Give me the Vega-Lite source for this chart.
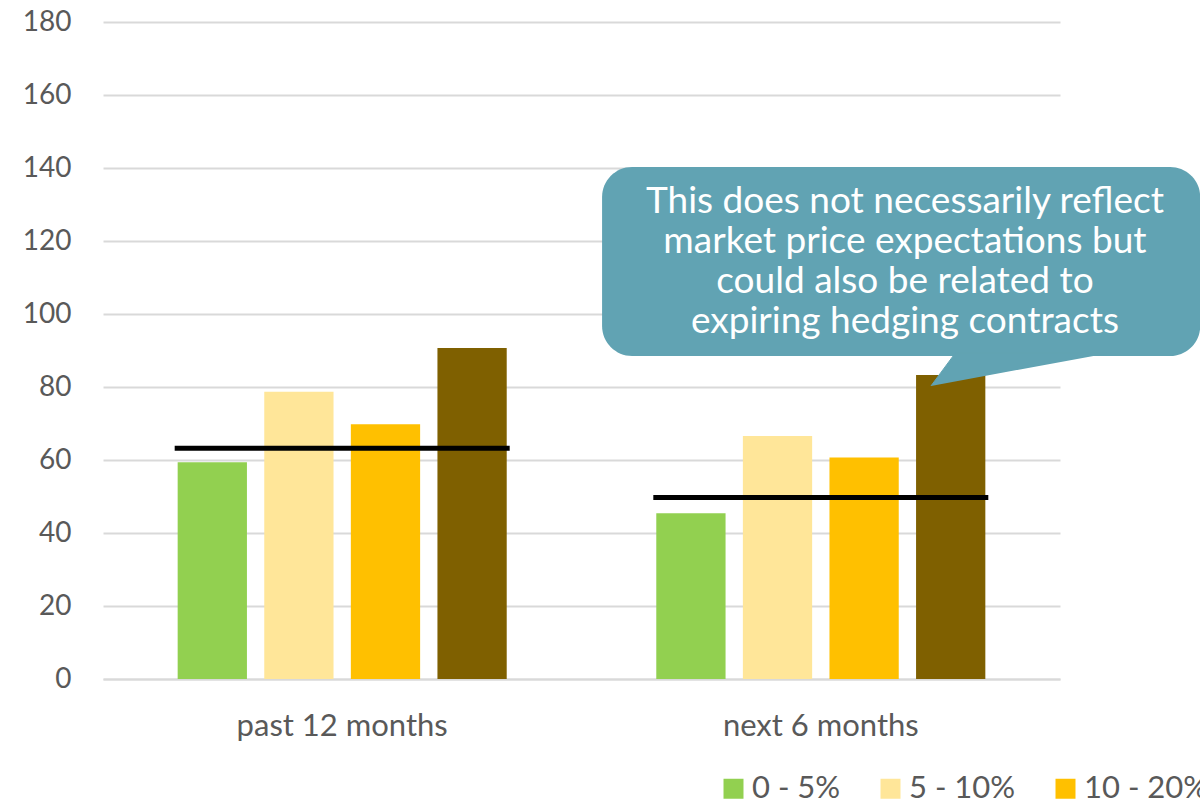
{
  "$schema": "https://vega.github.io/schema/vega-lite/v6.json",
  "width": 957,
  "height": 657,
  "autosize": {"type": "none"},
  "padding": {"left": 103, "top": 22, "right": 140, "bottom": 125},
  "background": "#ffffff",
  "config": {
    "view": {"stroke": null},
    "font": "Lato",
    "axis": {"labelFont": "Lato", "labelColor": "#595959", "labelFontSize": 28}
  },
  "datasets": {
    "bars": [
      {"period": "past 12 months", "group": "0 - 5%", "value": 59.4},
      {"period": "past 12 months", "group": "5 - 10%", "value": 78.7},
      {"period": "past 12 months", "group": "10 - 20%", "value": 69.8},
      {"period": "past 12 months", "group": "> 20%", "value": 90.7},
      {"period": "next 6 months", "group": "0 - 5%", "value": 45.4},
      {"period": "next 6 months", "group": "5 - 10%", "value": 66.6},
      {"period": "next 6 months", "group": "10 - 20%", "value": 60.7},
      {"period": "next 6 months", "group": "> 20%", "value": 83.3}
    ],
    "average": [
      {"period": "past 12 months", "value": 63.2},
      {"period": "next 6 months", "value": 49.7}
    ],
    "callout": [
      {"x0": 1.043, "x1": 2.293, "y0": 88.5, "y1": 140.3}
    ],
    "pointer": [
      {"k": 1, "px": 1.7304, "py": 80.3},
      {"k": 2, "px": 1.7806, "py": 89.2},
      {"k": 3, "px": 2.0982, "py": 89.2}
    ],
    "note": [
      {"tx": 1.676, "ty": 127.7, "label": "This does not necessarily reflect\nmarket price expectations but\ncould also be related to\nexpiring hedging contracts"}
    ]
  },
  "layer": [
    {
      "layer": [
        {
          "data": {"name": "bars"},
          "mark": {"type": "bar"},
          "encoding": {
            "x": {
              "field": "period",
              "type": "nominal",
              "sort": ["past 12 months", "next 6 months"],
              "scale": {"paddingInner": 0.3125, "paddingOuter": 0.156},
              "axis": {
                "title": null,
                "labelAngle": 0,
                "labelLimit": 0,
                "labelFontSize": 31,
                "ticks": false,
                "domain": true,
                "domainColor": "#d9d9d9",
                "domainWidth": 2,
                "labelPadding": 32,
                "grid": false
              }
            },
            "xOffset": {
              "field": "group",
              "type": "nominal",
              "sort": ["0 - 5%", "5 - 10%", "10 - 20%", "> 20%"],
              "scale": {"paddingInner": 0.2, "paddingOuter": 0}
            },
            "y": {
              "field": "value",
              "type": "quantitative",
              "scale": {"domain": [0, 180], "nice": false},
              "axis": {
                "title": null,
                "values": [0, 20, 40, 60, 80, 100, 120, 140, 160, 180],
                "grid": true,
                "gridColor": "#d9d9d9",
                "gridWidth": 2,
                "domain": false,
                "ticks": false,
                "labelPadding": 32
              }
            },
            "color": {
              "field": "group",
              "type": "nominal",
              "sort": ["0 - 5%", "5 - 10%", "10 - 20%", "> 20%"],
              "scale": {
                "domain": ["0 - 5%", "5 - 10%", "10 - 20%", "> 20%"],
                "range": ["#92d050", "#ffe699", "#ffc000", "#7f6000"]
              },
              "legend": {
                "title": null,
                "orient": "none",
                "direction": "horizontal",
                "legendX": 615,
                "legendY": 751,
                "padding": 0,
                "symbolType": "square",
                "symbolSize": 400,
                "symbolStrokeWidth": 0,
                "symbolOpacity": 1,
                "labelFont": "Lato",
                "labelFontSize": 31,
                "labelColor": "#595959",
                "labelOffset": 3,
                "labelLimit": 0,
                "columnPadding": 34
              }
            }
          }
        },
        {
          "data": {"name": "average"},
          "mark": {"type": "tick", "color": "#000000", "size": 335, "thickness": 5, "opacity": 1},
          "encoding": {
            "x": {"field": "period", "type": "nominal", "sort": ["past 12 months", "next 6 months"]},
            "y": {"field": "value", "type": "quantitative", "scale": {"domain": [0, 180], "nice": false}}
          }
        }
      ]
    },
    {
      "layer": [
        {
          "data": {"name": "callout"},
          "mark": {"type": "rect", "color": "#61a3b3", "cornerRadius": 30, "opacity": 1},
          "encoding": {
            "x": {"field": "x0", "type": "quantitative", "scale": {"domain": [0, 2], "nice": false, "zero": false}, "axis": null},
            "x2": {"field": "x1"},
            "y": {"field": "y0", "type": "quantitative", "scale": {"domain": [0, 180], "nice": false}},
            "y2": {"field": "y1"}
          }
        },
        {
          "data": {"name": "pointer"},
          "mark": {"type": "line", "fill": "#61a3b3", "stroke": "#61a3b3", "strokeWidth": 1, "opacity": 1},
          "encoding": {
            "x": {"field": "px", "type": "quantitative", "scale": {"domain": [0, 2], "nice": false, "zero": false}, "axis": null},
            "y": {"field": "py", "type": "quantitative", "scale": {"domain": [0, 180], "nice": false}},
            "order": {"field": "k"}
          }
        },
        {
          "data": {"name": "note"},
          "mark": {
            "type": "text",
            "color": "#ffffff",
            "font": "Lato",
            "fontSize": 37,
            "align": "center",
            "baseline": "alphabetic",
            "lineBreak": "\n",
            "lineHeight": 40
          },
          "encoding": {
            "x": {"field": "tx", "type": "quantitative", "scale": {"domain": [0, 2], "nice": false, "zero": false}, "axis": null},
            "y": {"field": "ty", "type": "quantitative", "scale": {"domain": [0, 180], "nice": false}},
            "text": {"field": "label"}
          }
        }
      ]
    }
  ],
  "resolve": {"scale": {"x": "independent"}}
}
